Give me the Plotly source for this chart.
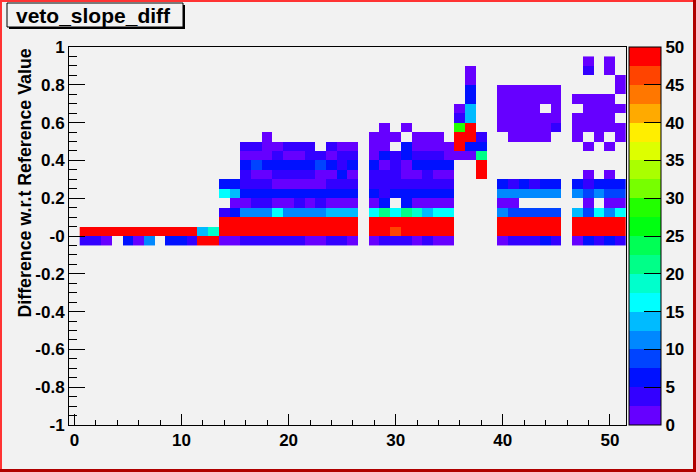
import plotly.graph_objects as go

_ = None

# ---- data: bin centers ----
x_centers = list(range(1, 52))
y_centers = [-0.025, 0.025, 0.075, 0.125, 0.175, 0.225, 0.275, 0.325, 0.375, 0.425,
             0.475, 0.525, 0.575, 0.625, 0.675, 0.725, 0.775, 0.825, 0.875, 0.925]

# ---- cell contents, one list per y-row (columns 1..51) ----
row_m1 = [4, 4, 1, _, 6, 1, 11, _, 6, 6,
          4, 50, 50, 1, 1, 4, 4, 4, 4, 4,
          4, 1, 1, 4, 4, 1, _, 1, 4, 4,
          4, 1, 4, 1, 1, _, _, _, _, 1,
          4, 4, 4, 6, 4, _, 1, 6, 4, 6,
          4]
row_0 = [50, 50, 50, 50, 50, 50, 50, 50, 50, 50,
         50, 14, 19, 50, 50, 50, 50, 50, 50, 50,
         50, 50, 50, 50, 50, 50, _, 50, 50, 46,
         50, 50, 50, 50, 50, _, _, _, _, 50,
         50, 50, 50, 50, 50, _, 50, 50, 50, 50,
         50]
row_1 = [_, _, _, _, _, _, _, _, _, _,
         _, _, _, 50, 50, 50, 50, 50, 50, 50,
         50, 50, 50, 50, 50, 50, _, 50, 50, 50,
         50, 50, 50, 50, 50, _, _, _, _, 50,
         50, 50, 50, 50, 50, _, 50, 50, 50, 50,
         50]
row_2 = [_, _, _, _, _, _, _, _, _, _,
         _, _, _, 4, 6, 11, 11, 11, 16, 11,
         11, 11, 11, 14, 14, 14, _, 16, 21, 16,
         21, 19, 14, 16, 16, _, _, _, _, 11,
         9, 9, 9, 9, 9, _, 14, 9, 16, 11,
         16]
row_3 = [_, _, _, _, _, _, _, _, _, _,
         _, _, _, _, 1, 1, 4, 4, 1, 1,
         4, 1, 4, 1, 1, 1, _, 1, 6, _,
         6, 1, 1, 1, 1, _, _, _, _, 1,
         1, _, _, _, _, _, _, 1, _, 1,
         1]
row_4 = [_, _, _, _, _, _, _, _, _, _,
         _, _, _, 16, 14, 6, 6, 6, 6, 6,
         6, 6, 6, 6, 6, 6, _, 6, 4, 6,
         6, 6, 6, 6, 6, _, _, _, _, 11,
         11, 11, 11, 11, 11, _, 11, 9, 11, 9,
         9]
row_5 = [_, _, _, _, _, _, _, _, _, _,
         _, _, _, 6, 6, 4, 4, 4, 1, 1,
         1, 1, 1, 4, 4, 4, _, 4, 4, 4,
         4, 4, 4, 4, 4, _, _, _, _, 6,
         4, 6, 4, 6, 6, _, 6, 4, 6, 6,
         6]
row_6 = [_, _, _, _, _, _, _, _, _, _,
         _, _, _, _, _, 4, 1, 1, 4, 4,
         4, 4, 1, 1, 6, 1, _, 4, 4, 4,
         1, 1, 4, 1, 1, _, _, 50, _, _,
         _, _, _, _, _, _, _, 1, _, 1,
         _]
row_7 = [_, _, _, _, _, _, _, _, _, _,
         _, _, _, _, _, 6, 9, 6, 6, 6,
         6, 6, 9, 6, 4, 6, _, 6, 1, 4,
         1, 6, 6, 6, 6, _, _, 50, _, _,
         _, _, _, _, _, _, _, _, _, _,
         _]
row_8 = [_, _, _, _, _, _, _, _, _, _,
         _, _, _, _, _, 1, 1, 1, 4, 1,
         1, 4, 4, 1, 4, 4, _, 1, 6, 4,
         6, 4, 4, 4, 1, 1, 1, 21, _, _,
         _, _, _, _, _, _, _, _, _, _,
         _]
row_9 = [_, _, _, _, _, _, _, _, _, _,
         _, _, _, _, _, 4, 4, 1, 1, 4,
         4, 4, _, 4, 1, 1, _, 1, 1, _,
         6, 1, 1, 1, 1, 50, 6, 6, _, _,
         _, _, _, _, _, _, _, 1, _, 1,
         _]
row_10 = [_, _, _, _, _, _, _, _, _, _,
          _, _, _, _, _, _, _, 1, _, _,
          _, _, _, _, _, _, _, 1, 1, 1,
          _, 1, 1, 1, _, 50, 50, 4, _, _,
          1, 1, 1, 1, _, _, 1, _, 1, _,
          1]
row_11 = [_, _, _, _, _, _, _, _, _, _,
          _, _, _, _, _, _, _, _, _, _,
          _, _, _, _, _, _, _, _, 1, _,
          1, _, _, _, _, 29, 50, _, _, 1,
          1, 1, 1, 1, 4, _, 1, 1, 1, 1,
          1]
row_12 = [_, _, _, _, _, _, _, _, _, _,
          _, _, _, _, _, _, _, _, _, _,
          _, _, _, _, _, _, _, _, _, _,
          _, _, _, _, _, 4, 14, _, _, 1,
          1, 1, 1, 1, 1, _, 1, 1, 1, 1,
          _]
row_13 = [_, _, _, _, _, _, _, _, _, _,
          _, _, _, _, _, _, _, _, _, _,
          _, _, _, _, _, _, _, _, _, _,
          _, _, _, _, _, 1, 14, _, _, 1,
          1, 1, 1, _, 1, _, _, 1, 1, 1,
          1]
row_14 = [_, _, _, _, _, _, _, _, _, _,
          _, _, _, _, _, _, _, _, _, _,
          _, _, _, _, _, _, _, _, _, _,
          _, _, _, _, _, _, 6, _, _, 1,
          1, 1, 1, 1, 1, _, 1, 1, 1, 1,
          _]
row_15 = [_, _, _, _, _, _, _, _, _, _,
          _, _, _, _, _, _, _, _, _, _,
          _, _, _, _, _, _, _, _, _, _,
          _, _, _, _, _, _, 6, _, _, 1,
          1, 1, 1, 1, 1, _, _, _, _, _,
          1]
row_16 = [_, _, _, _, _, _, _, _, _, _,
          _, _, _, _, _, _, _, _, _, _,
          _, _, _, _, _, _, _, _, _, _,
          _, _, _, _, _, _, 1, _, _, _,
          _, _, _, _, _, _, _, _, _, _,
          1]
row_17 = [_, _, _, _, _, _, _, _, _, _,
          _, _, _, _, _, _, _, _, _, _,
          _, _, _, _, _, _, _, _, _, _,
          _, _, _, _, _, _, 1, _, _, _,
          _, _, _, _, _, _, _, 4, _, 1,
          _]
row_18 = [_, _, _, _, _, _, _, _, _, _,
          _, _, _, _, _, _, _, _, _, _,
          _, _, _, _, _, _, _, _, _, _,
          _, _, _, _, _, _, _, _, _, _,
          _, _, _, _, _, _, _, 1, _, 1,
          _]

z = [row_m1, row_0, row_1, row_2, row_3, row_4, row_5, row_6, row_7, row_8,
     row_9, row_10, row_11, row_12, row_13, row_14, row_15, row_16, row_17, row_18]
for r in z:
    assert len(r) == 51

y_tick_vals = [-1, -0.8, -0.6, -0.4, -0.2, 0, 0.2, 0.4, 0.6, 0.8, 1]
y_tick_text = ["-1", "-0.8", "-0.6", "-0.4", "-0.2", "-0", "0.2", "0.4", "0.6", "0.8", "1"]
x_tick_vals = [0, 10, 20, 30, 40, 50]
z_tick_vals = [0, 5, 10, 15, 20, 25, 30, 35, 40, 45, 50]

# ---- styling ----
palette = ["#6600ff", "#3300ff", "#0011ff", "#0044ff", "#0088ff", "#00bbff",
           "#00ffff", "#00ffcc", "#00ff88", "#00ff55", "#00ff11", "#22ff00",
           "#77ff00", "#aaff00", "#ddff00", "#ffee00", "#ffaa00", "#ff7700",
           "#ff4400", "#ff0000"]
n = len(palette)
colorscale = []
for i, c in enumerate(palette):
    colorscale.append([i / n, c])
    colorscale.append([(i + 1) / n, c])

BG = "#f2f2f2"
FONT = "Liberation Sans, Arial, Helvetica, sans-serif"

W, H = 696, 472
ML, MR, MT, MB = 69, 70, 47, 47
PW, PH = W - ML - MR, H - MT - MB


def px(xp):
    return (xp - ML) / PW


def py(yp):
    return (H - MB - yp) / PH


fig = go.Figure()
fig.add_trace(go.Heatmap(
    x=x_centers, y=y_centers, z=z,
    colorscale=colorscale, zmin=0, zmax=50,
    hoverongaps=False,
    colorbar=dict(
        x=px(629), xanchor="left", xpad=0, ypad=0,
        y=0.5, yanchor="middle", len=1, lenmode="fraction",
        thickness=32, outlinewidth=1, outlinecolor="black",
        tickvals=z_tick_vals, ticks="inside", ticklen=17, tickwidth=1,
        tickcolor="black",
        tickfont=dict(family=FONT, size=17, color="black", weight="bold"),
    ),
))

axis_common = dict(
    showgrid=False, zeroline=False, showline=True, linecolor="black",
    linewidth=1, mirror=True, ticks="inside", tickcolor="black", tickwidth=1,
    automargin=False,
    tickfont=dict(family=FONT, size=17, color="black", weight="bold"),
)

fig.update_xaxes(range=[-0.5, 51.5], tickvals=x_tick_vals, ticklen=11,
                 minor=dict(ticks="inside", dtick=2, tick0=0, ticklen=5.5,
                            tickcolor="black"),
                 **axis_common)
fig.update_yaxes(range=[-1, 1], tickvals=y_tick_vals, ticktext=y_tick_text,
                 ticklen=16,
                 minor=dict(ticks="inside", dtick=0.05, tick0=0, ticklen=8,
                            tickcolor="black"),
                 **axis_common)

shapes = []
# title box shadow + box
shapes.append(dict(type="rect", xref="paper", yref="paper",
                   x0=px(9), x1=px(185), y0=py(29), y1=py(5),
                   fillcolor="black", line=dict(width=0), layer="above"))
shapes.append(dict(type="rect", xref="paper", yref="paper",
                   x0=px(7), x1=px(183), y0=py(27), y1=py(3),
                   fillcolor=BG, line=dict(color="black", width=1), layer="above"))
# canvas highlight border
shapes.append(dict(type="line", xref="paper", yref="paper",
                   x0=px(1), x1=px(1), y0=py(0), y1=py(H),
                   line=dict(color="#ff3333", width=2)))
shapes.append(dict(type="line", xref="paper", yref="paper",
                   x0=px(0), x1=px(W), y0=py(1), y1=py(1),
                   line=dict(color="#ff3333", width=2)))
shapes.append(dict(type="line", xref="paper", yref="paper",
                   x0=px(694.5), x1=px(694.5), y0=py(0), y1=py(H),
                   line=dict(color="#b00000", width=3)))
shapes.append(dict(type="line", xref="paper", yref="paper",
                   x0=px(0), x1=px(W), y0=py(470.5), y1=py(470.5),
                   line=dict(color="#b00000", width=3)))

annotations = [
    dict(text="veto_slope_diff", xref="paper", yref="paper",
         x=px(93), y=py(15), xanchor="center", yanchor="middle",
         showarrow=False,
         font=dict(family=FONT, size=21, color="black", weight="bold")),
    dict(text="Difference w.r.t Reference Value", xref="paper", yref="paper",
         x=px(24), y=1, xanchor="center", yanchor="top", textangle=-90,
         showarrow=False,
         font=dict(family=FONT, size=17.8, color="black", weight="bold")),
]

fig.update_layout(
    width=W, height=H, autosize=False,
    margin=dict(l=ML, r=MR, t=MT, b=MB, pad=0, autoexpand=False),
    paper_bgcolor=BG, plot_bgcolor=BG,
    shapes=shapes, annotations=annotations,
    showlegend=False,
)

fig.write_html("out.html", config={"displayModeBar": False},
               post_script="document.body.style.margin='0';"
                           "document.body.style.background='" + BG + "';")
